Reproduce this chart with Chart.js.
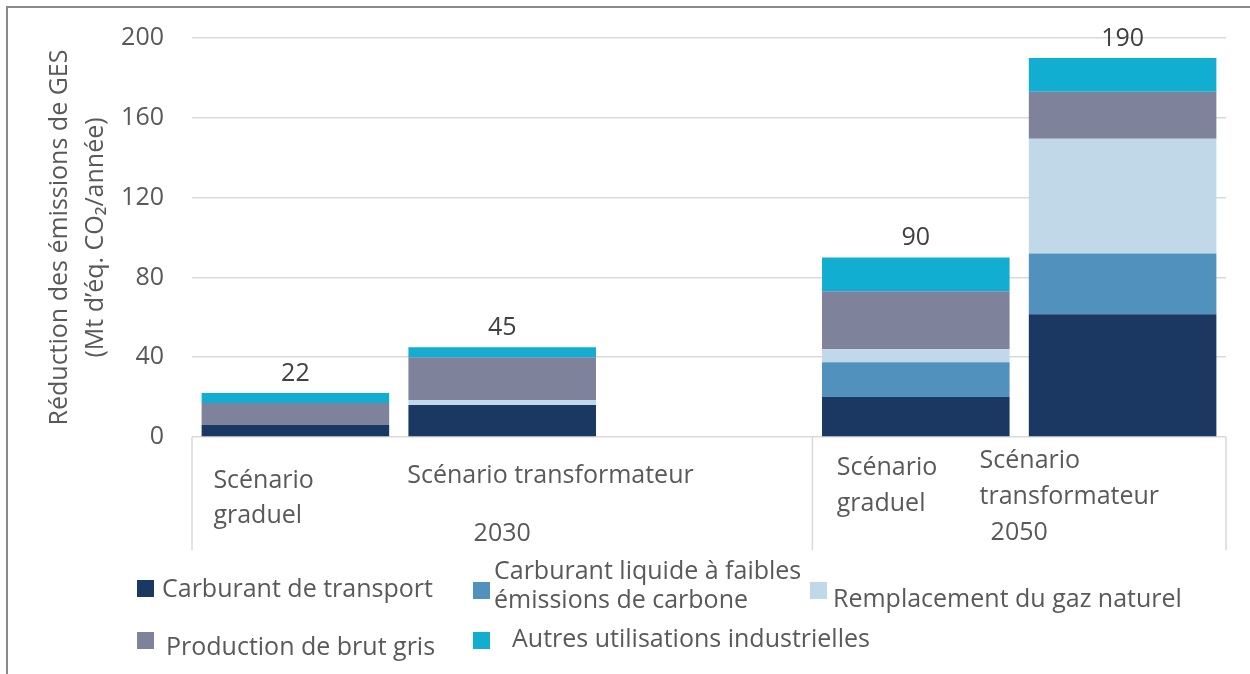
<!DOCTYPE html>
<html lang="fr">
<head>
<meta charset="utf-8">
<title>Réduction des émissions de GES</title>
<script src="https://cdn.jsdelivr.net/npm/chart.js@4.4.1/dist/chart.umd.min.js"></script>
<style>
    html, body { margin: 0; padding: 0; background: #fff; }
    #chart-container { position: relative; width: 1250px; height: 674px; overflow: hidden; }
    #chart-frame {
        position: absolute; left: 6px; top: 6px; width: 1300px; height: 720px;
        border-left: 2px solid #8a8a8a; border-top: 2px solid #8a8a8a;
        pointer-events: none;
    }
</style>
</head>
<body>
<div id="chart-container">
    <canvas id="emissionsChart" width="1250" height="674"></canvas>
    <div id="chart-frame"></div>
</div>
<script>
// Scenario columns; the empty third slot separates 2030 from 2050
const scenarioLines = [
    ['Scénario', 'graduel'],
    ['Scénario transformateur'],
    [],
    ['Scénario', 'graduel'],
    ['Scénario', 'transformateur']
];
const yearLabels = ['2030', '2050'];

// Reductions in Mt CO2e per year, one array per source
const transportFuel   = [6, 16, null, 20, 61.5];
const lowCarbonLiquid = [0, 0, null, 17.5, 30.5];
const gasReplacement  = [0, 2.5, null, 6.5, 57.5];
const greyCrude       = [11, 21.5, null, 29, 23.5];
const otherIndustrial = [5, 5, null, 17, 17];
const totals          = [22, 45, null, 90, 190];

const seriesNames = [
    ['Carburant de transport'],
    ['Carburant liquide à faibles', 'émissions de carbone'],
    ['Remplacement du gaz naturel'],
    ['Production de brut gris'],
    ['Autres utilisations industrielles']
];
const seriesColors = ['#1b3862', '#5091bd', '#c0d8e8', '#7f829b', '#12aed1'];

const yTicks = [0, 40, 80, 120, 160, 200];
const yTitle = ['Réduction des émissions de GES', '(Mt d’éq. CO₂/année)'];

const TEXT_COLOR = '#595959';
const FONT_FAMILY = "'Open Sans', sans-serif";
const FONT_SIZE = 25;

// Total written above each stacked column
const totalLabels = {
    id: 'totalLabels',
    afterDatasetsDraw(chart, args, opts) {
        const { ctx, scales: { x, y } } = chart;
        ctx.save();
        ctx.font = `${FONT_SIZE}px ${FONT_FAMILY}`;
        ctx.fillStyle = '#404040';
        ctx.textAlign = 'center';
        ctx.textBaseline = 'alphabetic';
        totals.forEach((t, i) => {
            if (t == null) return;
            ctx.fillText(String(t), x.getPixelForValue(i), y.getPixelForValue(t) - opts.gap);
        });
        ctx.restore();
    }
};

// Two-level category axis: scenario names, then the year of each group
const groupedAxis = {
    id: 'groupedAxis',
    afterDraw(chart, args, opts) {
        const { ctx, chartArea, scales: { x } } = chart;
        const base = chartArea.bottom;
        const split = (x.getPixelForValue(2) + x.getPixelForValue(3)) / 2;

        ctx.save();
        ctx.strokeStyle = '#d9d9d9';
        ctx.lineWidth = 1.5;
        [chartArea.left, split, chartArea.right].forEach(px => {
            ctx.beginPath();
            ctx.moveTo(px, base);
            ctx.lineTo(px, base + opts.separatorLength);
            ctx.stroke();
        });

        ctx.font = `${FONT_SIZE}px ${FONT_FAMILY}`;
        ctx.fillStyle = TEXT_COLOR;
        ctx.textBaseline = 'alphabetic';
        ctx.textAlign = 'left';
        scenarioLines.forEach((lines, i) => {
            const place = opts.places[i];
            lines.forEach((line, k) => {
                ctx.fillText(line, x.getPixelForValue(i) + place.dx, base + place.dy[k]);
            });
        });

        ctx.textAlign = 'center';
        const groups = [[chartArea.left, split], [split, chartArea.right]];
        yearLabels.forEach((year, g) => {
            ctx.fillText(year, (groups[g][0] + groups[g][1]) / 2, base + opts.yearDy[g]);
        });
        ctx.restore();
    }
};

// Legend laid out in two loose rows under the axis
const looseLegend = {
    id: 'looseLegend',
    afterDraw(chart, args, opts) {
        const { ctx } = chart;
        ctx.save();
        ctx.font = `${FONT_SIZE}px ${FONT_FAMILY}`;
        ctx.textBaseline = 'alphabetic';
        ctx.textAlign = 'left';
        chart.data.datasets.forEach((ds, i) => {
            const spot = opts.spots[i];
            ctx.fillStyle = ds.backgroundColor;
            ctx.fillRect(spot.box[0], spot.box[1], opts.boxSize, opts.boxSize);
            ctx.fillStyle = TEXT_COLOR;
            seriesNames[i].forEach((line, k) => {
                ctx.fillText(line, spot.text[0], spot.text[1] + k * opts.lineGap);
            });
        });
        ctx.restore();
    }
};

const seriesValues = [transportFuel, lowCarbonLiquid, gasReplacement, greyCrude, otherIndustrial];

const datasets = seriesValues.map((data, i) => ({
    label: seriesNames[i].join(' '),
    data: data,
    backgroundColor: seriesColors[i],
    borderWidth: 0,
    barPercentage: 0.907,
    categoryPercentage: 1,
    stack: 'total'
}));

Chart.defaults.font.family = FONT_FAMILY;
Chart.defaults.font.size = FONT_SIZE;
Chart.defaults.color = TEXT_COLOR;

const ctx = document.getElementById('emissionsChart');
const emissionsChart = new Chart(ctx, {
    type: 'bar',
    data: {
        labels: scenarioLines.map(l => l.join(' ')),
        datasets: datasets
    },
    options: {
        responsive: false,
        animation: false,
        events: [],
        layout: {
            padding: { left: 0, top: 38, right: 24, bottom: 0 }
        },
        plugins: {
            legend: { display: false },
            tooltip: { enabled: false },
            title: { display: false },
            totalLabels: { gap: 12 },
            groupedAxis: {
                separatorLength: 113,
                places: [
                    { dx: -82, dy: [51, 86] },
                    { dx: -95, dy: [46] },
                    { dx: 0, dy: [] },
                    { dx: -79, dy: [38, 74] },
                    { dx: -143, dy: [31, 67] }
                ],
                yearDy: [104, 103]
            },
            looseLegend: {
                boxSize: 17,
                lineGap: 29,
                spots: [
                    { box: [137, 580], text: [162, 597] },
                    { box: [473, 582], text: [494, 579] },
                    { box: [810, 582], text: [833, 607] },
                    { box: [137, 632], text: [166, 655] },
                    { box: [473, 632], text: [512, 647] }
                ]
            }
        },
        scales: {
            x: {
                stacked: true,
                ticks: { display: false },
                grid: { display: false },
                border: { display: false },
                afterFit: scale => {
                    scale.height = 674 - 437;
                    scale.paddingLeft = 0;
                    scale.paddingRight = 0;
                }
            },
            y: {
                stacked: true,
                min: 0,
                max: 200,
                afterBuildTicks: scale => {
                    scale.ticks = yTicks.map(v => ({ value: v }));
                },
                ticks: {
                    padding: 28,
                    color: TEXT_COLOR,
                    font: { size: FONT_SIZE }
                },
                grid: {
                    color: '#d9d9d9',
                    lineWidth: 1.5,
                    drawTicks: false
                },
                border: { display: false },
                title: {
                    display: true,
                    text: yTitle,
                    color: TEXT_COLOR,
                    font: { size: FONT_SIZE, lineHeight: 1.44 },
                    padding: { top: 42, bottom: 0 }
                },
                afterFit: scale => {
                    scale.width = 192;
                    scale.paddingTop = 0;
                    scale.paddingBottom = 0;
                }
            }
        }
    },
    plugins: [totalLabels, groupedAxis, looseLegend]
});
</script>
</body>
</html>
